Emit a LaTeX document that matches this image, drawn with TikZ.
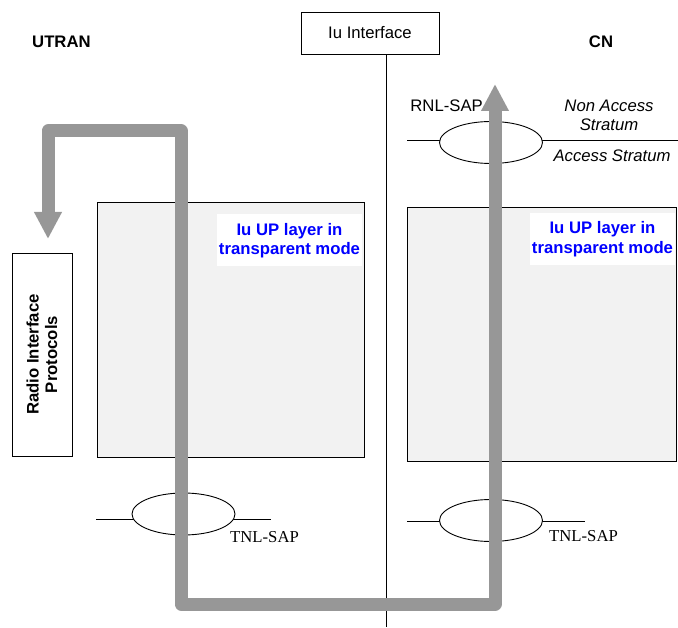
\documentclass[tikz,border=0pt]{standalone}
\usepackage{fontspec}
\setmainfont{Liberation Sans}
\newfontfamily\timesfont{Liberation Serif}
\usetikzlibrary{arrows.meta,shapes.geometric}
\definecolor{flowgray}{HTML}{979797}
\definecolor{layerfill}{HTML}{F2F2F2}
\newcommand\labelsize{\fontsize{16.7pt}{19.5pt}\selectfont}
\tikzset{
  plain/.style={inner sep=0pt, font=\labelsize},
  heading/.style={inner sep=0pt, font=\labelsize\bfseries},
  stratum/.style={inner sep=0pt, font=\labelsize\itshape, align=center},
  saplabel/.style={inner sep=0pt, font=\labelsize\timesfont, anchor=west},
  ifbox/.style={draw, line width=0.9pt, inner sep=0pt, font=\labelsize,
    minimum width=138pt, minimum height=42pt},
  layerbox/.style={draw, fill=layerfill, line width=0.9pt, inner sep=0pt},
  layerlabel/.style={fill=white, text=blue, font=\labelsize\bfseries, align=center,
    inner sep=0pt, minimum width=145pt, minimum height=52pt},
  radiobox/.style={draw, line width=0.9pt, rotate=90, inner sep=0pt, align=center,
    font=\fontsize{16.7pt}{18.5pt}\selectfont\bfseries,
    minimum width=203pt, minimum height=60pt},
  sapoval/.style={ellipse, draw, fill=white, line width=0.9pt, inner sep=0pt,
    minimum width=103pt, minimum height=42pt},
  sapline/.style={line width=0.9pt},
  dataflow/.style={flowgray, line width=13pt, line join=round,
    {Triangle[width=26pt,length=27pt]}-{Triangle[width=26pt,length=27pt]}}
}
\begin{document}
\begin{tikzpicture}[x=1pt,y=-1pt]
		\useasboundingbox (0,0) rectangle (678,628);
		% headings
		\node[heading, anchor=west] (utran) at (32,42) {UTRAN};
		\node[heading] (cn) at (601,42) {CN};
		% interface
		\node[ifbox] (iface) at (370,33) {Iu Interface};
		\coordinate (ifend) at (386,627);
		\draw[line width=0.9pt] (iface.south -| ifend) -- (ifend);
		% access stratum border
		\coordinate (nasw) at (407,140);
		\coordinate (nase) at (678,140);
		\draw[sapline] (nasw) -- (nase);
		\node[sapoval] (rnlsap) at (491,142.5) {};
		\node[plain, anchor=east] (rnllabel) at (483,106) {RNL-SAP};
		\node[stratum] (nas) at (609,115.5) {Non Access\\Stratum};
		\node[stratum] (as) at (612,156) {Access Stratum};
		% user plane layers
		\node[layerbox, minimum width=267pt, minimum height=255pt] (utranup) at (230.5,329.5) {};
		\node[layerbox, minimum width=269pt, minimum height=254pt] (cnup) at (541.5,334) {};
		\node[layerlabel] (utranuplabel) at (289.5,240.5) {Iu UP layer in\\transparent mode};
		\node[layerlabel] (cnuplabel) at (602.5,239) {Iu UP layer in\\transparent mode};
		% radio side
		\node[radiobox] (radio) at (42,354.5) {Radio Interface\\Protocols};
		% transport saps
		\coordinate (tnlaw) at (96,519);
		\coordinate (tnlae) at (271,519);
		\draw[sapline] (tnlaw) -- (tnlae);
		\node[sapoval] (tnlutran) at (183.5,514) {};
		\node[saplabel] (tnlutranlabel) at (230,537) {TNL-SAP};
		\coordinate (tnlbw) at (407,521);
		\coordinate (tnlbe) at (585,521);
		\draw[sapline] (tnlbw) -- (tnlbe);
		\node[sapoval] (tnlcn) at (491,520.5) {};
		\node[saplabel] (tnlcnlabel) at (549,536) {TNL-SAP};
		% data flow
		\coordinate (radiotip) at (48,239);
		\coordinate (flowtl) at (48,131);
		\coordinate (flowtr) at (181,131);
		\coordinate (flowbl) at (181,604);
		\coordinate (flowbr) at (495,604);
		\coordinate (rnltip) at (495,84);
		\draw[dataflow] (radiotip) -- (flowtl) -- (flowtr) -- (flowbl) -- (flowbr) -- (rnltip);
\end{tikzpicture}
\end{document}
